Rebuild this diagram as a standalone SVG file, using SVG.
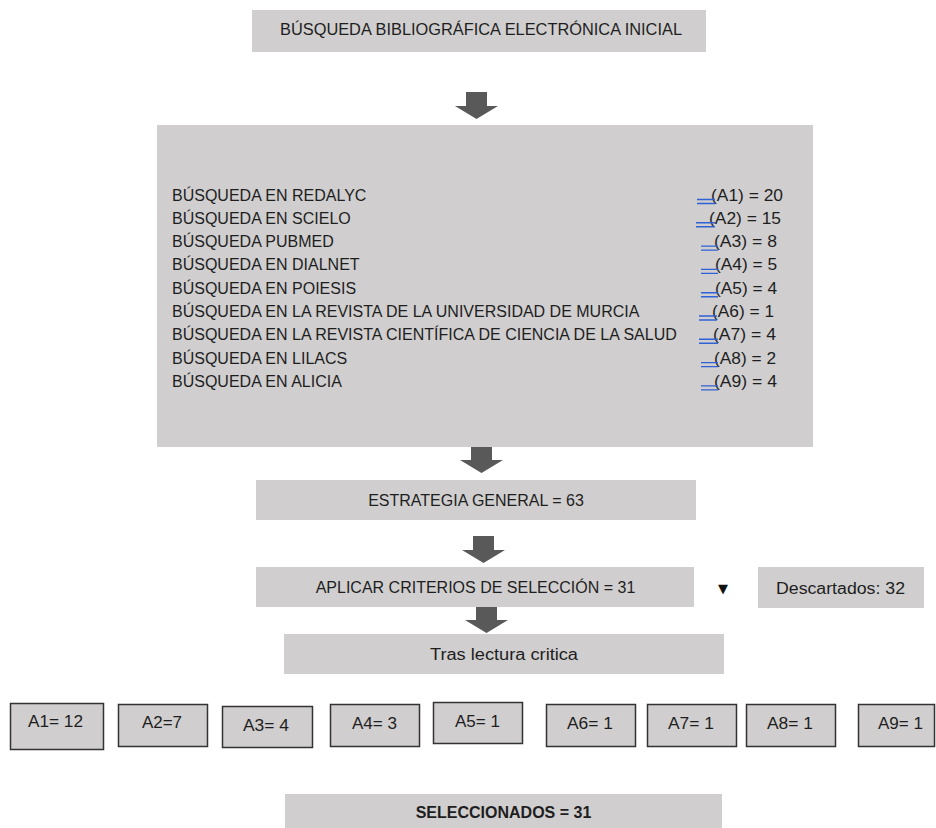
<svg xmlns="http://www.w3.org/2000/svg" width="936" height="828" viewBox="0 0 936 828">
<defs>
<style>
.box{fill:#d0cece}
.sbox{fill:#d0cece;stroke:#333;stroke-width:1.5}
.t{font-family:"Liberation Sans",Arial,sans-serif;font-size:16px;fill:#1e1e1e}
.c{text-anchor:middle}
.b{font-weight:bold}
.arr{fill:#595959}
.lnk{stroke:#2e62d6;stroke-width:1.4;fill:none}
</style>
<path id="blockArrow" d="M-10.5,0 H10.5 V14 H21.5 L0,27 L-21.5,14 H-10.5 Z"/>
</defs>
<rect width="936" height="828" fill="#fff"/>

<g id="connectors">
<use href="#blockArrow" class="arr" x="476.5" y="92"/>
<use href="#blockArrow" class="arr" x="481.5" y="446"/>
<use href="#blockArrow" class="arr" x="483.5" y="536"/>
<use href="#blockArrow" class="arr" x="486.5" y="606"/>
</g>

<g id="n-inicial">
<rect class="box" x="252" y="10" width="454" height="42"/>
<text class="t c" x="481" y="35" textLength="402" lengthAdjust="spacingAndGlyphs">BÚSQUEDA BIBLIOGRÁFICA ELECTRÓNICA INICIAL</text>
</g>

<g id="n-busquedas">
<rect class="box" x="157" y="125" width="656" height="322"/>
<text class="t" x="172" y="200.5">BÚSQUEDA EN REDALYC</text>
<text class="t" x="172" y="223.8">BÚSQUEDA EN SCIELO</text>
<text class="t" x="172" y="247.1">BÚSQUEDA PUBMED</text>
<text class="t" x="172" y="270.4">BÚSQUEDA EN DIALNET</text>
<text class="t" x="172" y="293.7">BÚSQUEDA EN POIESIS</text>
<text class="t" x="172" y="317">BÚSQUEDA EN LA REVISTA DE LA UNIVERSIDAD DE MURCIA</text>
<text class="t" x="172" y="340.3">BÚSQUEDA EN LA REVISTA CIENTÍFICA DE CIENCIA DE LA SALUD</text>
<text class="t" x="172" y="363.6">BÚSQUEDA EN LILACS</text>
<text class="t" x="172" y="386.9">BÚSQUEDA EN ALICIA</text>

<text class="t" x="711" y="200.5" textLength="72" lengthAdjust="spacingAndGlyphs">(A1) = 20</text>
<text class="t" x="709" y="223.8" textLength="72" lengthAdjust="spacingAndGlyphs">(A2) = 15</text>
<text class="t" x="714" y="247.1" textLength="63" lengthAdjust="spacingAndGlyphs">(A3) = 8</text>
<text class="t" x="715" y="270.4" textLength="62" lengthAdjust="spacingAndGlyphs">(A4) = 5</text>
<text class="t" x="715" y="293.7" textLength="62" lengthAdjust="spacingAndGlyphs">(A5) = 4</text>
<text class="t" x="712" y="317" textLength="62" lengthAdjust="spacingAndGlyphs">(A6) = 1</text>
<text class="t" x="713" y="340.3" textLength="63" lengthAdjust="spacingAndGlyphs">(A7) = 4</text>
<text class="t" x="714" y="363.6" textLength="62" lengthAdjust="spacingAndGlyphs">(A8) = 2</text>
<text class="t" x="714" y="386.9" textLength="63" lengthAdjust="spacingAndGlyphs">(A9) = 4</text>

<path class="lnk" d="M697,199.5 H715 M697,203.5 H715
M696,222.8 H715 M696,226.8 H715
M701,246.1 H718 M701,250.1 H718
M701,269.4 H718 M701,273.4 H718
M701,292.7 H718 M701,296.7 H718
M699,316 H717 M699,320 H717
M699,339.3 H718 M699,343.3 H718
M701,362.6 H718 M701,366.6 H718
M701,385.9 H718 M701,389.9 H718"/>
</g>

<g id="n-estrategia">
<rect class="box" x="256" y="480" width="440" height="40"/>
<text class="t c" x="476" y="506">ESTRATEGIA GENERAL = 63</text>
</g>

<g id="n-aplicar">
<rect class="box" x="256" y="567" width="438" height="40"/>
<text class="t c" x="475.5" y="592.5">APLICAR CRITERIOS DE SELECCIÓN = 31</text>
</g>

<g id="n-marker">
<text x="723" y="593" text-anchor="middle" style="font-family:'DejaVu Sans',sans-serif;font-size:13px;fill:#111">▼</text>
</g>

<g id="n-descartados">
<rect class="box" x="758" y="567" width="166" height="41"/>
<text class="t" x="776" y="594" textLength="129" lengthAdjust="spacingAndGlyphs">Descartados: 32</text>
</g>

<g id="n-tras">
<rect class="box" x="284" y="634" width="440" height="40"/>
<text class="t" x="430" y="660" textLength="148" lengthAdjust="spacingAndGlyphs">Tras lectura critica</text>
</g>

<g id="n-a1"><rect class="sbox" x="10.5" y="703.5" width="93" height="46"/><text class="t" x="28" y="727" textLength="55" lengthAdjust="spacingAndGlyphs">A1= 12</text></g>
<g id="n-a2"><rect class="sbox" x="118.5" y="704.5" width="89" height="42"/><text class="t" x="142" y="728" textLength="40" lengthAdjust="spacingAndGlyphs">A2=7</text></g>
<g id="n-a3"><rect class="sbox" x="222.5" y="706.5" width="90" height="41"/><text class="t" x="243" y="731" textLength="46" lengthAdjust="spacingAndGlyphs">A3= 4</text></g>
<g id="n-a4"><rect class="sbox" x="330.5" y="704.5" width="89" height="42"/><text class="t" x="352" y="729" textLength="45" lengthAdjust="spacingAndGlyphs">A4= 3</text></g>
<g id="n-a5"><rect class="sbox" x="433.5" y="702.5" width="89" height="41"/><text class="t" x="455" y="727" textLength="45" lengthAdjust="spacingAndGlyphs">A5= 1</text></g>
<g id="n-a6"><rect class="sbox" x="546.5" y="704.5" width="89" height="42"/><text class="t" x="567" y="729" textLength="46" lengthAdjust="spacingAndGlyphs">A6= 1</text></g>
<g id="n-a7"><rect class="sbox" x="647.5" y="704.5" width="89" height="42"/><text class="t" x="668" y="729" textLength="46" lengthAdjust="spacingAndGlyphs">A7= 1</text></g>
<g id="n-a8"><rect class="sbox" x="746.5" y="704.5" width="89" height="42"/><text class="t" x="767" y="729" textLength="46" lengthAdjust="spacingAndGlyphs">A8= 1</text></g>
<g id="n-a9"><rect class="sbox" x="858.5" y="704.5" width="76" height="42"/><text class="t" x="878" y="729" textLength="45" lengthAdjust="spacingAndGlyphs">A9= 1</text></g>

<g id="n-seleccionados">
<rect class="box" x="285" y="794" width="437" height="34"/>
<text class="t c b" x="503.5" y="818">SELECCIONADOS = 31</text>
</g>
</svg>
